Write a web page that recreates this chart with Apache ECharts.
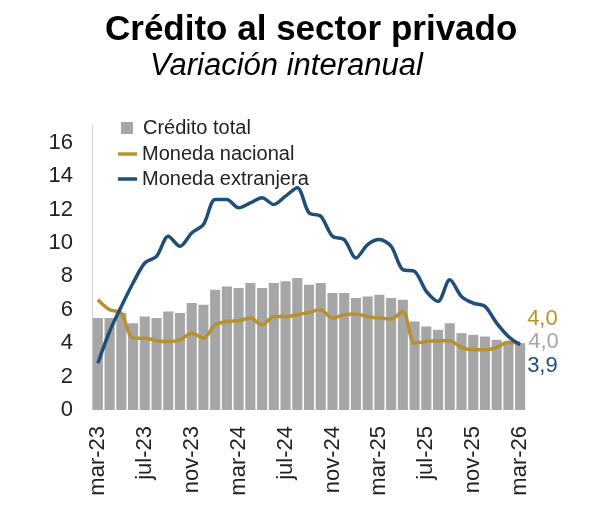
<!DOCTYPE html>
<html>
<head>
<meta charset="utf-8" />
<script src="https://cdn.jsdelivr.net/npm/echarts@6/dist/echarts.min.js"></script>
<title>Crédito al sector privado</title>
<style>
  body { margin: 0; background: #fff; }
</style>
</head>
<body>
<div id="main" style="width:600px;height:530px;"></div>
<script type="text/javascript">
// meses mar-23 .. mar-26
var meses = ['mar-23','abr-23','may-23','jun-23','jul-23','ago-23','sep-23','oct-23','nov-23','dic-23',
  'ene-24','feb-24','mar-24','abr-24','may-24','jun-24','jul-24','ago-24','sep-24','oct-24','nov-24','dic-24',
  'ene-25','feb-25','mar-25','abr-25','may-25','jun-25','jul-25','ago-25','sep-25','oct-25','nov-25','dic-25',
  'ene-26','feb-26','mar-26'];

var creditoTotal = [5.5,5.5,5.8,5.2,5.6,5.5,5.9,5.8,6.4,6.3,
  7.2,7.4,7.3,7.6,7.3,7.6,7.7,7.9,7.5,7.6,7.0,7.0,
  6.7,6.8,6.9,6.7,6.6,5.3,5.0,4.8,5.2,4.6,4.5,4.4,
  4.2,4.1,4.0];

var monedaNacional = [6.6,6.0,5.8,4.3,4.3,4.15,4.1,4.2,4.6,4.3,
  5.1,5.3,5.35,5.5,5.1,5.6,5.6,5.7,5.85,6.0,5.5,5.7,
  5.75,5.6,5.5,5.45,5.9,4.0,4.1,4.15,4.15,3.75,3.6,3.6,
  3.75,4.05,4.0];

var monedaExtranjera = [2.8,4.7,6.2,7.6,8.8,9.2,10.4,9.8,10.6,11.1,
  12.6,12.6,12.1,12.4,12.7,12.3,12.8,13.3,11.8,11.6,10.4,10.2,
  9.1,9.9,10.2,9.8,8.4,8.3,7.1,6.5,7.8,6.8,6.4,6.2,
  5.2,4.4,3.9];

var etiquetasFinales = ['4,0','4,0','3,9'];

var colGris = '#a6a6a6', colOro = '#b8912f', colAzul = '#1f4e79';
var fuente = 'Liberation Sans';

var myChart = echarts.init(document.getElementById('main'));

var barras = creditoTotal.map(function (v, i) {
  if (i === creditoTotal.length - 1) {
    return { value: v, label: { show: true, position: 'right', distance: 3, offset: [0, -35],
      formatter: etiquetasFinales[1], color: colGris, fontSize: 22, fontFamily: fuente } };
  }
  return v;
});

var option = {
  animation: false,
  textStyle: { fontFamily: fuente },
  title: [
    { text: 'Crédito al sector privado', left: 100, top: 8,
      textStyle: { fontSize: 35, fontWeight: 'bold', color: '#000', fontFamily: fuente } },
    { text: 'Variación interanual', left: 145, top: 46,
      textStyle: { fontSize: 31, fontStyle: 'italic', fontWeight: 'normal', color: '#000', fontFamily: fuente } }
  ],
  legend: [
    {
      orient: 'vertical', left: 116, top: 113,
      itemWidth: 12, itemHeight: 12,
      textStyle: { fontSize: 20, color: '#222', fontFamily: fuente, padding: [0, 0, 0, 5] },
      data: [{ name: 'Crédito total', icon: 'rect' }]
    },
    {
      orient: 'vertical', left: 113, top: 139, itemGap: 5,
      itemWidth: 19, itemHeight: 3.5,
      textStyle: { fontSize: 20, color: '#222', fontFamily: fuente },
      data: [{ name: 'Moneda nacional', icon: 'rect' }, { name: 'Moneda extranjera', icon: 'rect' }]
    }
  ],
  grid: { left: 92, right: 74, top: 126, bottom: 120 },
  xAxis: {
    type: 'category',
    data: meses,
    axisLine: { show: false },
    axisTick: { show: false },
    axisLabel: { interval: 3, rotate: 90, fontSize: 22, color: '#222', margin: 16, fontFamily: fuente }
  },
  yAxis: {
    type: 'value',
    min: 0, max: 17, interval: 2,
    axisLine: { show: true, lineStyle: { color: '#d0d0d0', width: 1 } },
    axisTick: { show: false },
    splitLine: { show: false },
    axisLabel: { fontSize: 22, color: '#222', margin: 19, showMaxLabel: false, fontFamily: fuente }
  },
  series: [
    {
      name: 'Crédito total', type: 'bar', data: barras,
      itemStyle: { color: colGris }, barCategoryGap: '14%'
    },
    {
      name: 'Moneda nacional', type: 'line', data: monedaNacional,
      symbol: 'none', smooth: 0.3,
      lineStyle: { color: colOro, width: 3.5 }, itemStyle: { color: colOro },
      endLabel: { show: true, formatter: etiquetasFinales[0], color: colOro, fontSize: 22,
        offset: [-1, -24], fontFamily: fuente }
    },
    {
      name: 'Moneda extranjera', type: 'line', data: monedaExtranjera,
      symbol: 'none', smooth: 0.3,
      lineStyle: { color: colAzul, width: 3.5 }, itemStyle: { color: colAzul },
      endLabel: { show: true, formatter: etiquetasFinales[2], color: colAzul, fontSize: 22,
        offset: [-1, 21], fontFamily: fuente }
    }
  ]
};
myChart.setOption(option);
</script>
</body>
</html>
